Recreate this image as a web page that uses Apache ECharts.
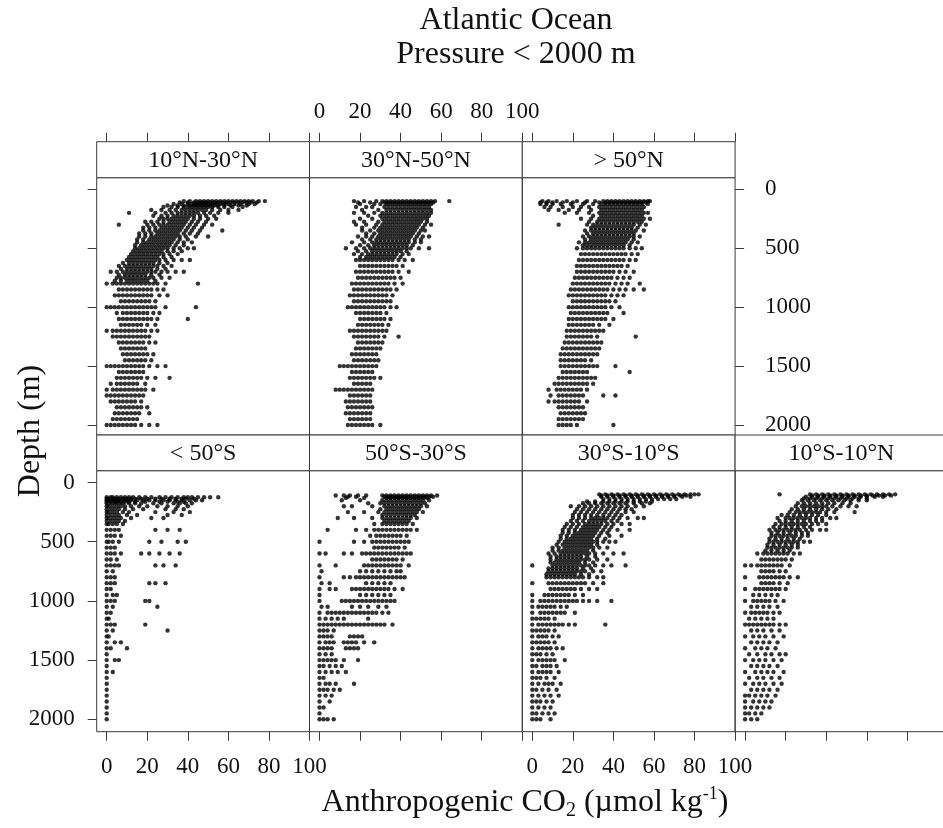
<!DOCTYPE html>
<html>
<head>
<meta charset="utf-8">
<script src="https://cdn.jsdelivr.net/npm/echarts@6/dist/echarts.min.js"></script>
<style>html,body{margin:0;padding:0;background:#fff}#chart{width:943px;height:828px}</style>
</head>
<body>
<div id="chart"></div>
<script>
// ---- data: each row = [depth (m), CO2 values (µmol/kg) observed at that depth ...]
const titleLines = ['Atlantic Ocean', 'Pressure < 2000 m'];
const co2Range = [0, 100, 20];      // min, max, tick step
const depthRange = [0, 2000, 500];  // min, max, tick step
const panelNames = ['10°N-30°N', '30°N-50°N', '> 50°N', '< 50°S', '50°S-30°S', '30°S-10°S', '10°S-10°N'];

const p10N30N = [
[100,38,41,44,46,48,50,52,54,56,58,60,62,64,66,68,70,72,75,78],
[112,36,40,43,45,47,49,51,53,55,57,59,61,63,65,67,69,71,74],
[125,33,37,40,42,44,46,48,50,52,54,56,58,60,63,66,70,73],
[137,30,35,38,41,43,45,47,49,51,53,55,58,61,65,69],
[150,28,32,35,38,40,42,44,46,48,50,52,55,58,62,67],
[175,22,27,31,34,37,39,41,43,45,47,49,52,56,60,65],
[200,11,24,29,32,35,37,39,41,43,45,48,51,55,60],
[225,23,27,30,33,35,37,39,41,43,46,49,53],
[250,26,28,30,32,34,36,38,40,43,46,50,54],
[275,19,22,25,28,31,33,35,37,39,42,45,49],
[300,6,20,23,26,28,30,32,34,36,38,41,44,48,52],
[325,18,21,24,27,29,31,33,35,37,40,43,47],
[350,18,21,24,26,28,30,32,34,36,39,42,46,57],
[375,16,19,22,25,27,29,31,33,35,38,41,45],
[400,16,19,22,24,26,28,30,32,34,36,39,44,50],
[425,15,18,21,23,25,27,29,31,33,36,40],
[450,15,18,20,22,24,26,28,30,32,35,38,42],
[475,14,17,19,21,23,25,27,29,31,34,38],
[500,14,16,18,20,22,24,26,28,30,33,36,40,43],
[525,13,15,17,19,21,23,25,27,30,33,37],
[550,12,14,16,18,20,22,24,26,28,31,35],
[575,11,13,15,17,19,21,23,25,28,32],
[600,10,12,14,16,18,20,22,24,26,29,33,37,41],
[625,8,11,13,15,17,19,21,23,26,30],
[650,6,9,11,13,15,17,19,21,23,25,28,32],
[675,7,10,12,14,16,18,20,22,25,29],
[700,2,5,8,10,12,14,16,18,20,22,24,27,30,34,38],
[725,6,9,11,13,15,17,19,22,26],
[750,5,7,9,11,13,15,17,19,21,23,27,31],
[775,4,7,10,12,14,16,18,20,24],
[800,0,3,5,7,9,11,13,15,17,19,21,23,25,29,45],
[850,6,8,10,12,14,16,18,20,22,25,28],
[900,4,6,8,10,12,14,16,18,20,22,26,30],
[950,7,9,11,13,15,17,19,21,24],
[1000,0,2,4,6,8,10,12,14,16,18,20,22,24,29,44],
[1050,5,8,10,12,14,16,18,20,23,26],
[1100,6,8,10,12,14,16,18,20,22,25,40],
[1150,7,9,11,13,15,17,20,24],
[1200,0,3,5,7,9,11,13,15,17,19,22,25],
[1250,3,5,7,9,11,13,15,17,19,21],
[1300,6,8,10,12,14,16,18,21,24],
[1350,7,9,11,13,15,17,19],
[1400,8,10,12,14,16,18,20,23],
[1450,9,11,13,15,17,19,22],
[1500,0,2,4,6,8,10,12,14,16,18,21,25,29],
[1550,6,8,10,12,14,16,18],
[1600,5,7,9,11,13,15,17,20,24,31],
[1650,2,5,7,9,11,13,15,19],
[1700,0,3,5,7,9,11,13,15,17,19,23],
[1750,0,2,4,6,8,10,12,14,16,18],
[1800,2,4,6,8,10,12,14,17],
[1850,5,7,9,11,13,15,17,20],
[1900,4,6,8,10,12,14,16,21],
[1950,3,5,7,9,11,13,15],
[2000,0,2,4,6,8,10,12,14,17,21,25]
];

const p30N50N = [
[100,17,22,28,31,33,35,37,39,41,43,45,47,49,51,53,55,57,64],
[112,19,25,32,34,36,38,40,42,44,46,48,50,52,54,56],
[125,20,27,30,33,35,37,39,41,43,45,47,49,51,53,55],
[150,18,23,26,32,34,36,38,40,42,44,46,48,50,52,54],
[175,21,29,33,35,37,39,41,43,45,47,49,51,53,55],
[200,17,22,27,31,33,35,37,39,41,43,45,47,49,51,53,55],
[225,24,30,32,34,36,38,40,42,44,46,48,50,52,54],
[250,20,26,31,33,35,37,39,41,43,45,47,49,51,53],
[275,17,22,29,32,34,36,38,40,42,44,46,48,50,53],
[300,18,23,28,31,33,35,37,39,41,43,45,47,49,52,55],
[325,21,27,30,32,34,36,38,40,42,44,46,48,51],
[350,21,25,29,31,33,35,37,39,41,43,45,47,50,52],
[375,23,27,30,32,34,36,38,40,42,44,46,49],
[400,19,23,26,29,31,33,35,37,39,41,43,45,48,51,54],
[425,21,25,28,30,32,34,36,38,40,42,44,47,50],
[450,16,22,26,28,30,32,34,36,38,40,42,44,47,50],
[475,20,24,27,29,31,33,35,37,39,41,43,46],
[500,13,18,22,25,27,29,31,33,35,37,39,41,43,45,49,54],
[525,19,23,26,28,30,32,34,36,38,40,43],
[550,17,21,24,26,28,30,32,34,36,38,41,44],
[575,20,23,25,27,29,31,33,35,37,40],
[600,18,20,22,24,26,28,30,32,34,36,39,42,46],
[650,20,22,24,26,28,30,32,34,36,38,41],
[700,18,20,22,24,26,28,30,32,34,36,39,44],
[750,19,21,23,25,27,29,31,33,35,37,40],
[800,16,18,20,22,24,26,28,30,32,34,37,41],
[850,17,19,21,23,25,27,29,31,33,35,38],
[900,15,17,19,21,23,25,27,29,31,33,36],
[950,17,19,21,23,25,27,29,31,33,35],
[1000,14,16,18,20,22,24,26,28,30,32,35,38],
[1050,18,20,22,24,26,28,30,33],
[1100,20,22,24,26,28,30,32,35],
[1150,19,21,23,25,27,29,31,34],
[1200,15,17,19,21,23,25,27,29,31,33],
[1250,17,19,21,23,25,27,29,32,39],
[1300,19,21,23,25,27,29,31],
[1350,18,20,22,24,26,28,30],
[1400,16,18,20,22,24,26,28],
[1450,17,19,21,23,25,27,29],
[1500,10,12,14,16,18,20,22,24,26,28],
[1550,16,18,20,22,24,26],
[1600,15,17,19,21,23,25,27,30],
[1650,17,19,21,23,25],
[1700,8,10,12,14,16,18,20,22,24,26],
[1750,15,17,19,21,23,25],
[1800,13,15,17,19,21,23,25],
[1850,14,16,18,20,22,24,26],
[1900,13,15,17,19,21,23,25],
[1950,15,17,19,21,23,25],
[2000,14,16,18,20,22,24,26,30]
];

const pGt50N = [
[100,5,8,12,17,22,27,31,35,37,39,41,43,45,47,49,51,53,55,57,58],
[112,4,7,10,15,20,26,33,36,38,40,42,44,46,48,50,52,54,56],
[125,4,7,10,14,19,25,30,34,36,38,40,42,44,46,48,50,52,54,57],
[150,6,9,15,20,24,28,33,35,37,39,41,43,45,47,49,51,53,55],
[175,8,13,18,23,29,34,36,38,40,42,44,46,48,50,52,54],
[200,16,22,28,33,35,37,39,41,43,45,47,49,51,53,55,57],
[225,30,34,36,38,40,42,44,46,48,50,52,54],
[250,24,29,33,35,37,39,41,43,45,47,49,51,53,55,58],
[275,28,32,34,36,38,40,42,44,46,48,50,52,54],
[300,13,27,30,32,34,36,38,40,42,44,46,48,50,53,56],
[325,29,31,33,35,37,39,41,43,45,47,49,52],
[350,26,29,31,33,35,37,39,41,43,45,47,49,51,55],
[375,27,30,32,34,36,38,40,42,44,46,48,50],
[400,25,28,30,32,34,36,38,40,42,44,46,48,50,53],
[425,26,29,31,33,35,37,39,41,43,45,47,50],
[450,23,26,28,30,32,34,36,38,40,42,44,46,49,52],
[475,25,27,29,31,33,35,37,39,41,43,45,48],
[500,22,25,27,29,31,33,35,37,39,41,43,45,48,51,54],
[550,24,26,28,30,32,34,36,38,40,42,44,46,49,52],
[600,23,25,27,29,31,33,35,37,39,41,43,45,48,51],
[650,22,24,26,28,30,32,34,36,38,40,42,44,47],
[700,22,24,26,28,30,32,34,36,38,40,43,46,50],
[750,21,23,25,27,29,31,33,35,37,39,42,45,48],
[800,20,22,24,26,28,30,32,34,36,38,41,44,47,53],
[850,19,21,23,25,27,29,31,33,35,37,40,43,46,50,55],
[900,18,20,22,24,26,28,30,32,34,36,39,42,45],
[950,20,22,24,26,28,30,32,34,36,38,41],
[1000,18,20,22,24,26,28,30,32,34,36,39,43],
[1050,19,21,23,25,27,29,31,33,35,37,45],
[1100,18,20,22,24,26,28,30,32,34,36,40],
[1150,18,20,22,24,26,28,30,33,38],
[1200,17,19,21,23,25,27,29,31,33,35],
[1250,17,19,21,23,25,27,29,32,51],
[1300,16,18,20,22,24,26,28,30,32,34],
[1350,15,17,19,21,23,25,27,29,31,33],
[1400,14,16,18,20,22,24,26,28,30,32],
[1450,14,16,18,20,22,24,26,29],
[1500,14,16,18,20,22,24,26,28,30,32,41],
[1550,15,17,19,21,23,25,27,48],
[1600,13,15,17,19,21,23,25,27,29,31],
[1650,11,13,15,17,19,21,23,25,27,30],
[1700,8,12,14,16,18,20,22,24,27],
[1750,9,13,15,17,19,21,23,25,35,41],
[1800,8,11,13,15,17,19,21,23,27],
[1850,13,15,17,19,21,23,25],
[1900,14,16,18,20,22,24,26],
[1950,13,15,17,19,21,23,25],
[2000,13,15,17,19,22,40]
];

const pLt50S = [
[125,0,2,3,5,7,9,11,13,16,19,22,26,29,32,35,38,40,42,45,48,51,55],
[137,0,1,3,4,6,8,10,12,14,17,20,24,27,31,34,37,39,43],
[150,0,1,3,4,6,8,10,12,15,18,21,24,28,31,34,37,41,44,47],
[162,0,2,4,5,7,9,11,14,19,26,30,35,38],
[175,0,2,4,6,8,11,14,17,23,27,33,36,39,42],
[200,0,1,3,5,7,9,12,16,20,25,30,35,40],
[225,0,2,4,6,9,13,18,29,34,38],
[250,0,1,3,5,8,11,24,33,41],
[275,0,2,4,6,10,15,30,37],
[300,0,1,3,5,7,12,22,28],
[325,0,2,4,6,9],
[350,0,1,3,5,8],
[400,0,2,4,6,24,30,36],
[450,0,2,4,7],
[500,0,1,3,6,21,27,35,39],
[550,0,2,4],
[600,0,2,4,7,17,21,26,31,36],
[650,0,2,5],
[700,0,2,4,6,24,28,34],
[750,0,3],
[800,0,2,4],
[850,0,2,4,21,24,29],
[900,0,2],
[950,0,3,5],
[1000,0,2,4,19,21],
[1050,0,3,25],
[1100,0,2],
[1150,0,1],
[1200,0,2,4,19],
[1250,0,3,30],
[1300,0,1],
[1350,0,4,7],
[1400,0,2,10],
[1450,0],
[1500,0,4,6],
[1550,0],
[1600,0,3],
[1650,0],
[1700,0],
[1750,0],
[1800,0],
[1850,0],
[1900,0],
[1950,0],
[2000,0]
];

const p50S30S = [
[110,8,12,15,19,23,31,33,35,37,39,41,43,45,47,49,51,53,55,58],
[120,14,18,32,34,36,38,40,42,44,46,48,50,52,54,56],
[130,13,22,33,35,37,39,41,43,45,47,49,51,53],
[150,11,20,31,33,35,37,39,41,43,45,47,49,51,54],
[175,24,30,32,34,36,38,40,42,44,46,48,50,52],
[200,12,16,26,32,34,36,38,40,42,44,46,48,50,53],
[225,30,33,35,37,39,41,43,45,47,49],
[250,14,22,29,32,34,36,38,40,42,44,46,48,51],
[275,31,33,35,37,39,41,43,45,47],
[300,9,17,26,31,33,35,37,39,41,43,45,48],
[325,32,34,36,38,40,42,44],
[350,27,31,33,35,37,39,41,43,46],
[400,4,18,23,27,29,31,33,35,37,39,41,43,45,48],
[450,25,28,30,32,34,36,38,40,43],
[500,0,17,22,26,28,30,32,34,36,38,40,42,44],
[550,27,29,31,33,35,37,39,42],
[600,0,3,12,16,21,23,25,27,29,31,33,35,37,39,41,43,45],
[650,26,28,30,32,34,36,38,41],
[700,0,8,22,24,26,28,30,32,34,36,38,40,44],
[750,1,20,23,26,29,32,35,38,40],
[800,0,12,15,18,20,22,24,26,28,30,32,34,36,38,40,42],
[850,1,5,23,26,29,32,35],
[900,0,5,8,16,18,20,22,24,26,28,30,32,34,37,41],
[950,0,20,23,26,29,32,35],
[1000,0,11,13,15,17,19,21,23,25,27,29,31,33,35,37],
[1050,1,4,16,20,24,29,33],
[1100,0,4,6,8,10,12,14,16,18,20,22,24,26,28,31,34],
[1150,0,3,6,9,12,24],
[1200,0,2,4,6,8,10,12,14,16,18,20,22,24,26,28,30,32,36],
[1250,0,2,4,7],
[1300,0,2,4,6,15,17,19,21],
[1350,0,3,5,7,12,14,16,18,22,27],
[1400,0,2,4,6,13,15,17,19],
[1450,0,3,6],
[1500,0,2,4,6,8,12,19],
[1550,0,2,5,8,11],
[1600,0,3,6,9,13],
[1650,0,2],
[1700,0,3,5,8,17],
[1750,0,2,4,7,10],
[1800,0,3,6],
[1850,0,5],
[1900,0,2],
[1950,0],
[2000,0,2,4,7]
];

const p30S10S = [
[100,33,36,39,42,45,48,51,54,57,60,63,66,69,72,75,78,80,82],
[110,34,37,40,43,46,49,52,55,58,61,64,67,70,73,76],
[120,34,37,40,43,46,49,52,55,58,61,64,67,70,74,78],
[140,35,38,41,44,47,50,53,56,59,62,65,68,71],
[160,27,31,35,38,41,44,47,50,53,56,59],
[175,25,28,31,34,37,40,43,46,50,54,58],
[200,19,23,26,29,32,35,38,41,44,47,51,55],
[225,22,25,28,31,34,37,40,43,46,49],
[250,21,24,27,30,33,36,39,42,46,50],
[275,20,23,26,29,32,35,38,41,44],
[300,20,23,26,29,31,33,35,37,40,43,47,52,55],
[325,19,22,25,28,30,32,34,36,39,42],
[350,17,20,23,26,28,30,32,34,37,40,44,48],
[375,16,19,22,25,27,29,31,33,36,39],
[400,15,18,21,24,26,28,30,32,35,38,42,48],
[425,15,18,21,23,25,27,29,31,34,37],
[450,14,17,20,22,24,26,28,30,33,38,44],
[475,14,17,19,21,23,25,27,29,32,36],
[500,13,16,18,20,22,24,26,28,30,32,35,38,41],
[525,12,15,17,19,21,23,25,27,29,32],
[550,10,13,16,18,20,22,24,26,28,30,33,37],
[575,10,13,15,17,19,21,23,25,27,30],
[600,8,11,14,16,18,20,22,24,26,28,31,35,40,45],
[625,9,12,14,16,18,20,22,24,27,31],
[650,9,12,14,16,18,20,22,24,26,28,32,37],
[675,9,11,13,15,17,19,21,23,26,30],
[700,0,10,12,14,16,18,20,22,24,26,28,31,35,39,46],
[725,8,10,12,14,16,18,20,22,25,29],
[750,8,10,12,14,16,18,20,22,24,26,30,34],
[775,7,9,11,13,15,17,19,21,24,28],
[800,7,9,11,13,15,17,19,21,23,25,28,32,35],
[850,0,8,10,12,14,16,18,20,22,24,26,30,35],
[900,9,11,13,15,17,19,21,24,28,32],
[950,0,6,8,10,12,14,16,18,21,25],
[1000,0,4,6,8,10,12,14,16,18,20,22,25,28,32,39],
[1050,0,3,5,7,9,11,14,17],
[1100,0,4,6,8,10,12,14,16,21],
[1150,0,2,4,6,8,11],
[1200,0,3,5,7,9,11,13,15,18,21,36],
[1250,0,2,4,6,8,11],
[1300,0,3,5,7,10,13],
[1350,0,2,4,6,8,11],
[1400,0,3,5,7,9,12,15],
[1450,0,2,4,7,10],
[1500,0,3,5,7,9,11,16],
[1550,0,2,5,7,9,12],
[1600,0,3,5,7,9,13],
[1650,0,2,4,7,11],
[1700,0,3,6,8,10,14],
[1750,0,2,5,8,12],
[1800,0,3,6,9,13],
[1850,0,2,4,7,10],
[1900,0,3,6,9],
[1950,0,2,5,8,11],
[2000,0,2,4,9]
];

const p10S10N = [
[100,17,32,35,38,41,44,47,50,53,56,59,62,65,68,71,74],
[110,33,36,39,42,45,48,51,54,57,60,63,66,69,72],
[120,30,33,36,39,42,45,48,51,54,57,60,64,68],
[135,29,32,35,38,41,44,47,50,53,56,60],
[150,28,31,34,37,40,43,46,49,52,56,60],
[175,26,29,32,35,38,41,44,48,52],
[200,25,28,30,32,34,36,38,40,43,47,51,55],
[225,23,26,29,32,35,38,41,45],
[250,22,25,27,29,31,33,35,37,40,44,54],
[275,18,21,24,27,30,33,36,40],
[300,16,20,22,24,26,28,30,32,35,38,42,45],
[325,17,20,23,26,29,32,35,38],
[350,15,18,20,22,24,26,28,30,33,36,40],
[375,14,17,20,23,26,29,32],
[400,12,15,17,19,21,23,25,27,30,33,37,40],
[425,13,16,19,22,25,28,31],
[450,13,15,17,19,21,23,25,28,31],
[475,12,15,18,21,24,27],
[500,12,14,16,18,20,22,24,26,29,32],
[525,11,14,17,20,23,26],
[550,11,13,15,17,19,21,23,26],
[575,10,13,16,19,22],
[600,6,9,11,13,15,17,19,21,24,27],
[650,8,10,12,14,16,18,20,23],
[700,0,3,6,8,10,12,14,16,18,22],
[750,8,10,12,14,17,20],
[800,0,7,9,11,13,15,17,19,22,26],
[850,8,10,12,14,17,21],
[900,0,5,7,9,11,13,15,17,20],
[950,4,7,10,13,16],
[1000,0,4,6,8,10,12,15,19],
[1050,3,6,9,12,16],
[1100,0,3,5,7,9,11,14,17],
[1150,2,5,8,11,14],
[1200,0,2,4,6,8,10,12,14,17,20],
[1250,3,6,9,13,17],
[1300,0,4,7,10,14,19],
[1350,3,6,9,12,16],
[1400,0,5,8,11,15],
[1450,2,6,10,13,17,20],
[1500,0,4,7,10,14,18],
[1550,3,6,9,12,16],
[1600,0,5,8,11,14,19],
[1650,2,6,9,13,17],
[1700,0,4,7,10,14,18],
[1750,3,6,9,12,16],
[1800,0,2,5,8,11,15],
[1850,0,4,7,10,13],
[1900,0,3,6,9,12],
[1950,0,2,5,8],
[2000,0,3,6]
];

const panelData = [p10N30N, p30N50N, pGt50N, pLt50S, p50S30S, p30S10S, p10S10N];

// ---- layout (positions / styles) ----
const FONT = 'Liberation Serif';
const LINE = '#3a3a3a';
const TXT = '#111';
const colLeft = [96.7, 309.5, 522.3, 735.1];
const PANEL_W = 212.8;
const DATA_INSET = 10;          // px from panel left edge to CO2 = 0
const DATA_W = 202.8;           // px for CO2 0..100
const rowsLayout = [
  { panelTop: 177.7, panelBot: 435,   stripTop: 141.7, stripH: 36,   dataTop: 189.3, dataH: 235.7 },
  { panelTop: 470.7, panelBot: 731.7, stripTop: 435,   stripH: 35.7, dataTop: 482.5, dataH: 236.8 }
];
const place = [[0,0],[0,1],[0,2],[1,0],[1,1],[1,2],[1,3]];

function expand(rows) {
  const pts = [];
  rows.forEach(r => { for (let i = 1; i < r.length; i++) pts.push([r[i], r[0]]); });
  return pts;
}

const grids = [], xAxes = [], yAxes = [], series = [], graphics = [];
place.forEach(([r, c], i) => {
  const R = rowsLayout[r];
  const gl = colLeft[c] + DATA_INSET;
  grids.push({ left: gl, top: R.dataTop, width: DATA_W, height: R.dataH, show: false,
    containLabel: false, outerBoundsMode: 'none' });
  const topRow = r === 0;
  const showXLabel = topRow ? c === 1 : (c === 0 || c === 2);
  xAxes.push({ type: 'value', gridIndex: i, min: co2Range[0], max: co2Range[1], interval: co2Range[2],
    position: topRow ? 'top' : 'bottom',
    offset: topRow ? (R.dataTop - R.panelTop) + R.stripH : (R.panelBot - (R.dataTop + R.dataH)),
    axisLine: { show: false, onZero: false }, splitLine: { show: false },
    axisTick: { show: true, inside: false, length: 9, lineStyle: { color: LINE, width: 1 } },
    axisLabel: { show: showXLabel, fontFamily: FONT, fontSize: 23, color: TXT, margin: topRow ? 18 : 24,
      showMinLabel: true, showMaxLabel: true, hideOverlap: false, formatter: v => String(v) }
  });
  let yPos = 'left', yTick = false, yLabel = false, yOff = DATA_INSET;
  if (topRow && c === 0) { yTick = true; }
  if (topRow && c === 2) { yPos = 'right'; yTick = true; yLabel = true; yOff = (colLeft[c] + PANEL_W) - (gl + DATA_W); }
  if (!topRow && c === 0) { yTick = true; yLabel = true; }
  yAxes.push({ type: 'value', gridIndex: i, min: depthRange[0], max: depthRange[1], interval: depthRange[2],
    inverse: true, position: yPos, offset: yOff,
    axisLine: { show: false, onZero: false }, splitLine: { show: false },
    axisTick: { show: yTick, inside: false, length: 9, lineStyle: { color: LINE, width: 1 } },
    axisLabel: { show: yLabel, fontFamily: FONT, fontSize: 23, color: TXT,
      margin: yPos === 'right' ? 30 : 22, formatter: v => String(v) }
  });
  series.push({ type: 'scatter', xAxisIndex: i, yAxisIndex: i, data: expand(panelData[i]),
    symbol: 'circle', symbolSize: 4.4, itemStyle: { color: '#000' }, silent: true, animation: false });
  // panel border
  graphics.push({ type: 'rect', shape: { x: colLeft[c], y: R.panelTop, width: PANEL_W, height: R.panelBot - R.panelTop },
    style: { fill: 'none', stroke: LINE, lineWidth: 1 }, z: 1 });
  // strip
  graphics.push({ type: 'rect', shape: { x: colLeft[c], y: R.stripTop, width: PANEL_W, height: R.stripH },
    style: { fill: '#fff', stroke: LINE, lineWidth: 1 }, z: 1 });
  graphics.push({ type: 'text', x: colLeft[c] + PANEL_W / 2, y: R.stripTop + R.stripH / 2 + 1,
    style: { text: panelNames[i], fontFamily: FONT, fontSize: 24, fill: TXT, align: 'center', verticalAlign: 'middle' }, z: 2 });
});

graphics.push({ type: 'text', x: 516, y: 21, style: { text: titleLines[0], fontFamily: FONT, fontSize: 32, fill: TXT, align: 'center', verticalAlign: 'middle' } });
graphics.push({ type: 'text', x: 516, y: 55, style: { text: titleLines[1], fontFamily: FONT, fontSize: 32, fill: TXT, align: 'center', verticalAlign: 'middle' } });
graphics.push({ type: 'text', x: 525, y: 803, style: {
  text: '{a|Anthropogenic CO}{sub|2}{a| (µmol kg}{sup|-1}{a|)}', align: 'center', verticalAlign: 'middle',
  rich: {
    a: { fontFamily: FONT, fontSize: 32, lineHeight: 36, fill: TXT },
    sub: { fontFamily: FONT, fontSize: 20, lineHeight: 20, verticalAlign: 'bottom', fill: TXT },
    sup: { fontFamily: FONT, fontSize: 18, lineHeight: 18, verticalAlign: 'top', fill: TXT }
  } } });
graphics.push({ type: 'text', x: 31, y: 431, rotation: Math.PI / 2, style: { text: 'Depth (m)', fontFamily: FONT, fontSize: 32, fill: TXT, align: 'center', verticalAlign: 'middle' } });

const chart = echarts.init(document.getElementById('chart'), null, { renderer: 'canvas' });
chart.setOption({
  animation: false,
  backgroundColor: '#fff',
  grid: grids, xAxis: xAxes, yAxis: yAxes, series: series,
  graphic: { elements: graphics }
});
</script>
</body>
</html>
